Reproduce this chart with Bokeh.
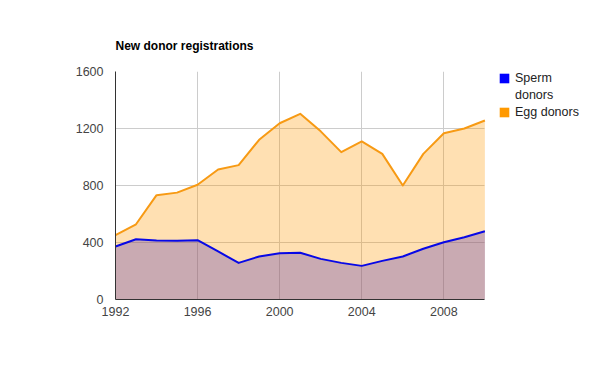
from bokeh.plotting import figure
from bokeh.models import ColumnDataSource, FixedTicker, Legend, LegendItem, Title
from bokeh.embed import file_html
from bokeh.resources import INLINE

# ---- data ----
years = [1992, 1993, 1994, 1995, 1996, 1997, 1998, 1999, 2000, 2001,
         2002, 2003, 2004, 2005, 2006, 2007, 2008, 2009, 2010]
sperm_donors = [372, 423, 414, 412, 416, 337, 257, 302, 325, 328,
                285, 257, 236, 271, 302, 356, 402, 437, 479]
egg_donors = [451, 528, 732, 750, 805, 912, 943, 1121, 1237, 1303,
              1180, 1034, 1109, 1022, 800, 1022, 1167, 1200, 1256]
x_ticks = [1992, 1996, 2000, 2004, 2008]
y_ticks = [0, 400, 800, 1200, 1600]
legend_lines = ["Sperm", "donors", "Egg donors"]
title_text = "New donor registrations"

BLUE = "#0000ff"
ORANGE = "#ff9900"
FONT = "Liberation Sans"

src = ColumnDataSource(dict(year=years, sperm=sperm_donors, egg=egg_donors))

# frame extends to the right so the legend can sit inside it; the data part ends at 2010
p = figure(width=592, height=363, output_backend="svg", toolbar_location=None,
           x_range=(years[0], 2015), y_range=(y_ticks[0], y_ticks[-1]),
           min_border_left=115, min_border_right=5,
           min_border_top=71, min_border_bottom=64)
p.outline_line_color = None
p.background_fill_color = "white"
p.border_fill_color = "white"

# areas (sperm first, egg over it), both semi-transparent from zero
p.varea(x="year", y1=0, y2="sperm", source=src, fill_color=BLUE, fill_alpha=0.3)
p.varea(x="year", y1=0, y2="egg", source=src, fill_color=ORANGE, fill_alpha=0.3)
p.line(x="year", y="sperm", source=src, line_color="#0808e6", line_width=2, line_join="round")
p.line(x="year", y="egg", source=src, line_color="#f79a14", line_width=2, line_join="round")

# zero-size quads: invisible, only supply the legend swatches
sw_blue = p.quad(left="year", right="year", top="sperm", bottom="sperm", source=src,
                 fill_color=BLUE, line_color=None)
sw_orange = p.quad(left="year", right="year", top="egg", bottom="egg", source=src,
                   fill_color=ORANGE, line_color=None)

legend = Legend(items=[LegendItem(label=legend_lines[0], renderers=[sw_blue], index=0),
                       LegendItem(label=legend_lines[1], renderers=[]),
                       LegendItem(label=legend_lines[2], renderers=[sw_orange], index=0)],
                location=(383, 179), orientation="vertical",
                glyph_width=12, glyph_height=12, label_height=16,
                label_standoff=5, spacing=1, padding=0, margin=0,
                label_text_font=FONT, label_text_font_size="12.5px",
                label_text_color="#222222",
                border_line_color=None, background_fill_alpha=0)
p.add_layout(legend, "center")

# axes
for ax in (p.xaxis[0], p.yaxis[0]):
    ax.axis_line_color = "#333333"
    ax.axis_line_width = 1
    ax.major_tick_line_color = None
    ax.minor_tick_line_color = None
    ax.major_tick_out = 0
    ax.major_tick_in = 0
    ax.major_label_text_font = FONT
    ax.major_label_text_font_size = "12.5px"
    ax.major_label_text_color = "#444444"
p.xaxis[0].ticker = FixedTicker(ticks=x_ticks)
p.yaxis[0].ticker = FixedTicker(ticks=y_ticks)
p.xaxis[0].bounds = (years[0], years[-1])
p.xaxis[0].major_label_standoff = 7
p.yaxis[0].major_label_standoff = 12

p.xgrid[0].ticker = FixedTicker(ticks=x_ticks[1:])
p.ygrid[0].ticker = FixedTicker(ticks=y_ticks[1:])
p.ygrid[0].cross_bounds = (years[0], years[-1])
p.xgrid[0].grid_line_color = "#cccccc"
p.ygrid[0].grid_line_color = "#cccccc"

p.add_layout(Title(text=title_text, align="left", text_font=FONT, text_font_size="12px",
                   text_font_style="bold", text_color="#000000", standoff=37), "above")

open("out.html", "w").write(file_html(p, INLINE))
